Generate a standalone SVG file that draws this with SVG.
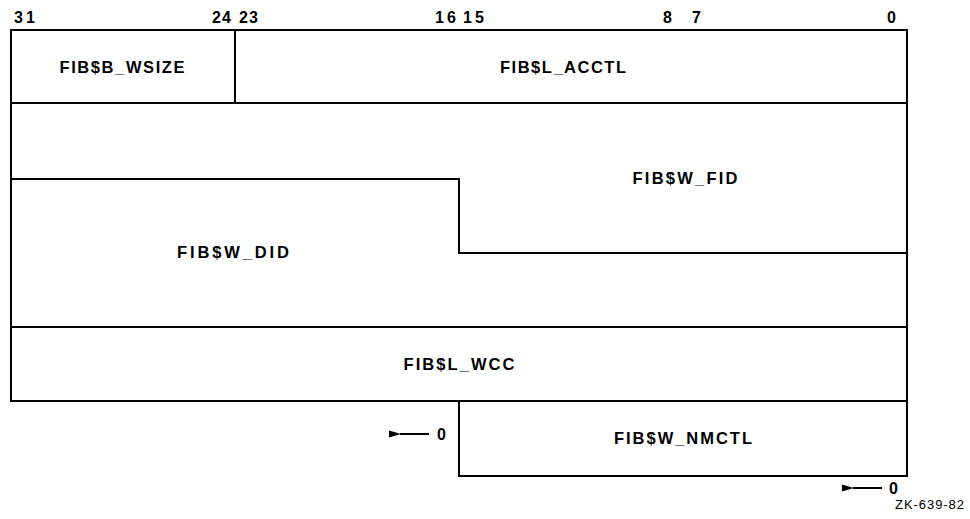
<svg xmlns="http://www.w3.org/2000/svg" width="970" height="519" viewBox="0 0 970 519">
<style>
.ln{stroke:#000;stroke-width:2;fill:none}
.t{font-family:"Liberation Sans",Arial,sans-serif;font-weight:bold;font-size:16.5px;fill:#000}
.b{font-size:16px}
.m{text-anchor:middle}
.s{font-size:13px;font-weight:normal}
</style>
<defs>
<marker id="ah" markerWidth="12" markerHeight="8" refX="1" refY="4" orient="auto" markerUnits="userSpaceOnUse">
<path d="M12,0.5 L0,4 L12,7.5 Z" fill="#000"/>
</marker>
</defs>
<rect width="970" height="519" fill="#fff"/>
<g id="bits" class="t b">
<text x="14" y="23" textLength="21" lengthAdjust="spacing">31</text>
<text x="212" y="23" textLength="19" lengthAdjust="spacing">24</text>
<text x="239" y="23" textLength="19" lengthAdjust="spacing">23</text>
<text x="435" y="23" textLength="21" lengthAdjust="spacing">16</text>
<text x="463" y="23" textLength="21" lengthAdjust="spacing">15</text>
<text x="663" y="23">8</text>
<text x="692" y="23">7</text>
<text x="887" y="23">0</text>
</g>
<g id="wsize">
<rect class="ln" x="11" y="30" width="224" height="73"/>
<text class="t m" x="122" y="73" textLength="125" lengthAdjust="spacing">FIB$B_WSIZE</text>
</g>
<g id="acctl">
<rect class="ln" x="235" y="30" width="672" height="73"/>
<text class="t m" x="563" y="73" textLength="126" lengthAdjust="spacing">FIB$L_ACCTL</text>
</g>
<g id="fid">
<path class="ln" d="M11,103 H907 V253 H459 V179 H11 Z"/>
<text class="t m" x="685" y="184" textLength="105" lengthAdjust="spacing">FIB$W_FID</text>
</g>
<g id="did">
<path class="ln" d="M11,179 H459 V253 H907 V327 H11 Z"/>
<text class="t m" x="233" y="258" textLength="112" lengthAdjust="spacing">FIB$W_DID</text>
</g>
<g id="wcc">
<rect class="ln" x="11" y="327" width="896" height="74"/>
<text class="t m" x="459" y="370" textLength="111" lengthAdjust="spacing">FIB$L_WCC</text>
</g>
<g id="nmctl">
<rect class="ln" x="459" y="401" width="448" height="75"/>
<text class="t m" x="683" y="444" textLength="138" lengthAdjust="spacing">FIB$W_NMCTL</text>
</g>
<g id="connectors">
<line class="ln" x1="429" y1="434" x2="400" y2="434" marker-end="url(#ah)"/>
<line class="ln" x1="882" y1="488" x2="853" y2="488" marker-end="url(#ah)"/>
</g>
<g id="labels" class="t b">
<text x="437" y="440">0</text>
<text x="889" y="494">0</text>
<text class="t s" x="895" y="509" textLength="69" lengthAdjust="spacing">ZK-639-82</text>
</g>
</svg>
